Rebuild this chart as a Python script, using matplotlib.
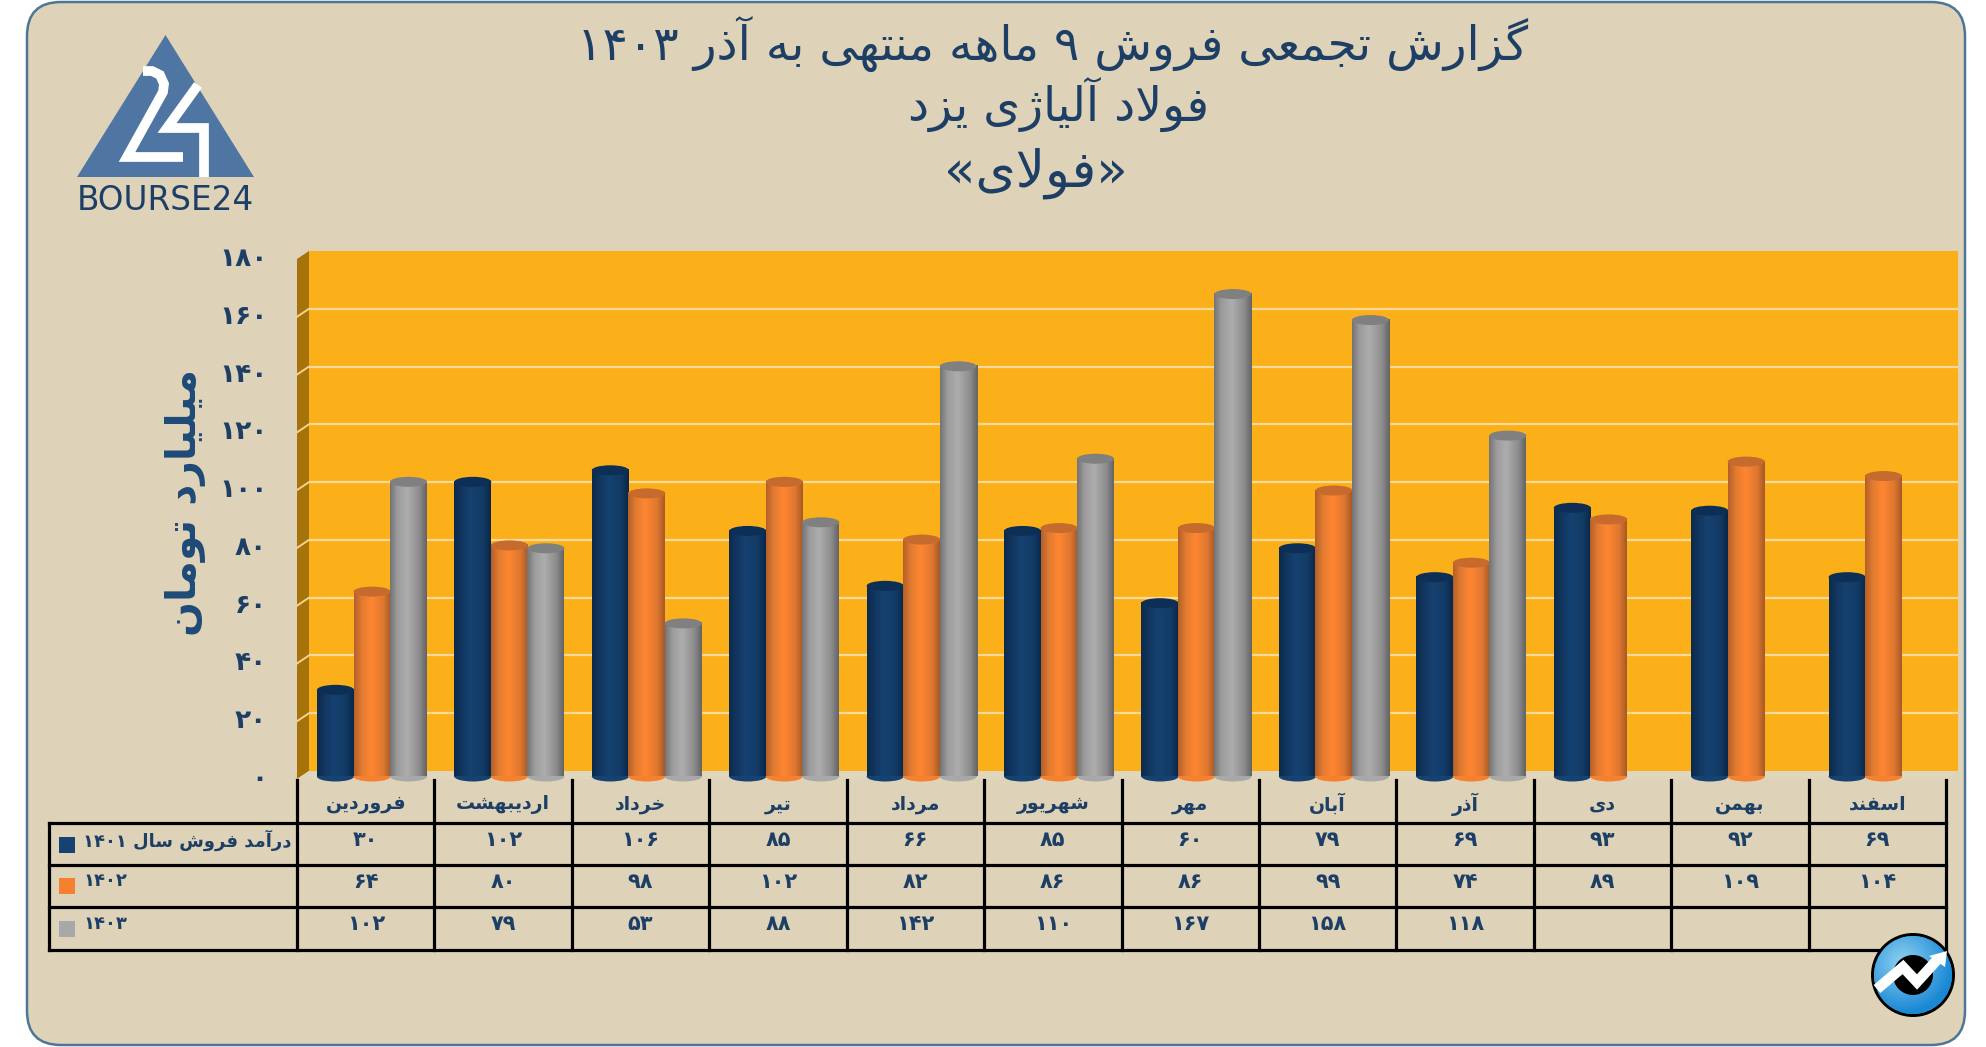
import numpy as np
import matplotlib
matplotlib.use("Agg")
import matplotlib.pyplot as plt
from matplotlib.patches import Ellipse, FancyBboxPatch, Polygon, Circle, Rectangle
from matplotlib.colors import to_rgb
import matplotlib.transforms as mtr

# ---------- data ----------
MONTHS = ["فروردین", "اردیبهشت", "خرداد", "تیر", "مرداد", "شهریور", "مهر", "آبان", "آذر", "دی", "بهمن", "اسفند"]
SALES_1401 = [30, 102, 106, 85, 66, 85, 60, 79, 69, 93, 92, 69]
SALES_1402 = [64, 80, 98, 102, 82, 86, 86, 99, 74, 89, 109, 104]
SALES_1403 = [102, 79, 53, 88, 142, 110, 167, 158, 118, None, None, None]
SERIES_NAMES = ["درآمد فروش سال ۱۴۰۱", "۱۴۰۲", "۱۴۰۳"]
Y_TICKS = [0, 20, 40, 60, 80, 100, 120, 140, 160, 180]
TITLE_LINES = ["گزارش تجمعی فروش ۹ ماهه منتهی به آذر ۱۴۰۳", "فولاد آلیاژی یزد", "«فولای»"]
Y_LABEL = "میلیارد تومان"

# ---------- Persian shaping (matplotlib has no text shaper) ----------
FORMS = {
    'ا': (0xFE8D, 0xFE8E, None, None), 'آ': (0xFE81, 0xFE82, None, None),
    'ب': (0xFE8F, 0xFE90, 0xFE91, 0xFE92), 'پ': (0xFB56, 0xFB57, 0xFB58, 0xFB59),
    'ت': (0xFE95, 0xFE96, 0xFE97, 0xFE98), 'ج': (0xFE9D, 0xFE9E, 0xFE9F, 0xFEA0),
    'خ': (0xFEA5, 0xFEA6, 0xFEA7, 0xFEA8), 'د': (0xFEA9, 0xFEAA, None, None),
    'ذ': (0xFEAB, 0xFEAC, None, None), 'ر': (0xFEAD, 0xFEAE, None, None),
    'ز': (0xFEAF, 0xFEB0, None, None), 'ژ': (0xFB8A, 0xFB8B, None, None),
    'س': (0xFEB1, 0xFEB2, 0xFEB3, 0xFEB4), 'ش': (0xFEB5, 0xFEB6, 0xFEB7, 0xFEB8),
    'ع': (0xFEC9, 0xFECA, 0xFECB, 0xFECC), 'ف': (0xFED1, 0xFED2, 0xFED3, 0xFED4),
    'گ': (0xFB92, 0xFB93, 0xFB94, 0xFB95), 'ل': (0xFEDD, 0xFEDE, 0xFEDF, 0xFEE0),
    'م': (0xFEE1, 0xFEE2, 0xFEE3, 0xFEE4), 'ن': (0xFEE5, 0xFEE6, 0xFEE7, 0xFEE8),
    'و': (0xFEED, 0xFEEE, None, None), 'ه': (0xFEE9, 0xFEEA, 0xFEEB, 0xFEEC),
    'ی': (0xFBFC, 0xFBFD, 0xFBFE, 0xFBFF),
}
MIRROR = {'«': '»', '»': '«', '(': ')', ')': '('}
DIGITS = "۰۱۲۳۴۵۶۷۸۹"


def fa_num(v):
    return "".join(DIGITS[int(c)] for c in str(v))


def shape(text):
    out = []
    i = 0
    n = len(text)
    while i < n:
        c = text[i]
        if c not in FORMS:
            out.append(MIRROR.get(c, c))
            i += 1
            continue
        prev = text[i - 1] if i > 0 else ''
        joins_prev = prev in FORMS and FORMS[prev][2] is not None
        # lam + alef ligature
        if c == 'ل' and i + 1 < n and text[i + 1] in 'اآ':
            if text[i + 1] == 'ا':
                out.append(chr(0xFEFC if joins_prev else 0xFEFB))
            else:
                out.append(chr(0xFEF6 if joins_prev else 0xFEF5))
            i += 2
            continue
        nxt = text[i + 1] if i + 1 < n else ''
        joins_next = nxt in FORMS and FORMS[c][2] is not None
        f = FORMS[c]
        if joins_prev and joins_next:
            out.append(chr(f[3]))
        elif joins_prev:
            out.append(chr(f[1]))
        elif joins_next:
            out.append(chr(f[2]))
        else:
            out.append(chr(f[0]))
        i += 1
    # visual order: reverse everything, keep digit runs left-to-right
    vis = out[::-1]
    res, run = [], []
    for ch in vis:
        if ch in DIGITS:
            run.append(ch)
        else:
            res.extend(run[::-1])
            run = []
            res.append(ch)
    res.extend(run[::-1])
    return "".join(res)


# ---------- layout ----------
W, H = 1986, 1047
NAVY = "#1d3f66"
PANEL = "#ded3b8"
fig = plt.figure(figsize=(W / 100, H / 100), dpi=100, facecolor="white")
plt.rcParams['font.family'] = ['DejaVu Sans']

bg = fig.add_axes([0, 0, 1, 1], zorder=0)
bg.set_xlim(0, W)
bg.set_ylim(H, 0)
bg.axis("off")

top = fig.add_axes([0, 0, 1, 1], zorder=3)
top.set_xlim(0, W)
top.set_ylim(H, 0)
top.axis("off")
top.patch.set_alpha(0)

# panel
bg.add_patch(FancyBboxPatch((27 + 34, 2 + 34), 1938 - 68, 1043 - 68, boxstyle="round,pad=34,rounding_size=34",
                            fc=PANEL, ec="#4d7595", lw=1.8))

# plot geometry
WALL_L, WALL_R, WALL_T, WALL_B = 309, 1958, 251, 771
SKEW_X, SKEW_Y = 12, 8
TABLE_L, COL0, COL_W = 49, 297, (1946 - 297) / 12
GROUP0 = 372

bg.add_patch(Polygon([(WALL_L - SKEW_X, WALL_T + SKEW_Y), (WALL_L, WALL_T), (WALL_L, WALL_B),
                      (WALL_L - SKEW_X, WALL_B + SKEW_Y)], fc="#a6720a", ec="none"))
bg.add_patch(Polygon([(WALL_L, WALL_B), (WALL_R, WALL_B), (WALL_R - SKEW_X, WALL_B + SKEW_Y),
                      (WALL_L - SKEW_X, WALL_B + SKEW_Y)], fc="#e0d6bd", ec="none"))
for t in Y_TICKS[1:-1]:
    yy = WALL_B - (WALL_B - WALL_T) * t / 180
    bg.plot([WALL_L - SKEW_X, WALL_L], [yy + SKEW_Y, yy], color="#f6d48f", lw=1.4)

ax = fig.add_axes([WALL_L / W, 1 - WALL_B / H, (WALL_R - WALL_L) / W, (WALL_B - WALL_T) / H], zorder=1)
ax.set_facecolor("#fbb01a")
for s in ax.spines.values():
    s.set_visible(False)
ax.set_xlim((WALL_L - GROUP0) / COL_W, (WALL_R - GROUP0) / COL_W)
ax.set_ylim(0, 180)
ax.set_xticks([])
ax.set_yticks(Y_TICKS)
ax.set_yticklabels([fa_num(t) for t in Y_TICKS], fontsize=19, fontweight="bold", color=NAVY)
ax.tick_params(axis="y", length=0, pad=30)
for lab in ax.get_yticklabels():
    lab.set_transform(lab.get_transform() + mtr.ScaledTranslation(0, -5 / 100, fig.dpi_scale_trans))
ax.grid(axis="y", color="#fad99b", lw=1.6)
ax.set_axisbelow(True)
for gl, t in zip(ax.get_ygridlines(), Y_TICKS):
    if t in (0, 180):
        gl.set_visible(False)

# cylinders
STYLE = [
    (["#0b2a4d", "#12365f", "#164271", "#123a64", "#0a2747"], "#0e2f55", "#164271"),
    (["#b4602a", "#e07a30", "#ff8631", "#de7730", "#a85a28"], "#c76a2d", "#f5802f"),
    (["#747474", "#9c9c9c", "#adadad", "#8c8c8c", "#646464"], "#808080", "#a8a8a8"),
]
STOPS = [0, 0.2, 0.47, 0.8, 1]
bar_tr = ax.transData + mtr.ScaledTranslation(0, -5.5 / 100, fig.dpi_scale_trans)
SPACING = 36.5 / COL_W
BAR_W = 37 / COL_W
ELL_H = 10 / ((WALL_B - WALL_T) / 180)


def gradient(cols):
    t = np.linspace(0, 1, 64)
    rgb = np.array([to_rgb(c) for c in cols])
    return np.stack([np.interp(t, STOPS, rgb[:, k]) for k in range(3)], axis=-1)[None, :, :]


positions = np.arange(len(MONTHS))
for s, values in enumerate([SALES_1401, SALES_1402, SALES_1403]):
    cols, top_col, flat = STYLE[s]
    grad = gradient(cols)
    present = [(p, v) for p, v in zip(positions, values) if v is not None]
    xs = np.array([p for p, v in present]) + (s - 1) * SPACING
    vs = [v for p, v in present]
    ax.bar(xs, vs, width=BAR_W, color=flat, transform=bar_tr, clip_on=False, zorder=3 + s * 5)
    for x, v in zip(xs, vs):
        x0, x1 = x - BAR_W / 2, x + BAR_W / 2
        base = Ellipse((x, 0), BAR_W, ELL_H, fc=flat, ec="none", transform=bar_tr, zorder=4 + s * 5, clip_on=False)
        ax.add_patch(base)
        im = ax.imshow(grad, extent=(x0, x1, -ELL_H / 2, ELL_H / 2), aspect="auto", transform=bar_tr,
                       zorder=5 + s * 5, interpolation="bilinear")
        im.set_clip_path(base)
        ax.imshow(grad, extent=(x0, x1, 0, v), aspect="auto", transform=bar_tr, clip_on=False,
                  zorder=5 + s * 5, interpolation="bilinear")
        ax.add_patch(Ellipse((x, v), BAR_W, ELL_H, fc=top_col, ec="none", transform=bar_tr,
                             zorder=6 + s * 5, clip_on=False))

# titles
TITLE_POS = [(1053, 44, 34), (1059, 104, 34), (1036, 173, 37)]
for line, (x, y, fs) in zip(TITLE_LINES, TITLE_POS):
    top.text(x, y, shape(line), ha="center", va="center", fontsize=fs, color=NAVY)
top.text(185, 503, shape(Y_LABEL), rotation=90, ha="center", va="center", fontsize=29.5,
         fontweight="bold", color="#1e4a78")

# data table
ROW_Y = [823, 865, 907, 950]
LW = 2.3
for y in ROW_Y:
    top.plot([TABLE_L, COL0 + 12 * COL_W], [y, y], color="black", lw=LW, solid_capstyle="projecting")
top.plot([TABLE_L, TABLE_L], [ROW_Y[0], ROW_Y[-1]], color="black", lw=LW)
for i in range(13):
    xx = COL0 + i * COL_W
    top.plot([xx, xx], [780, ROW_Y[-1]], color="black", lw=LW)
for i, m in enumerate(MONTHS):
    top.text(COL0 + (i + .5) * COL_W, 804, shape(m), ha="center", va="center", fontsize=13.6,
             fontweight="bold", color=NAVY)
    for r, vals in enumerate([SALES_1401, SALES_1402, SALES_1403]):
        if vals[i] is not None:
            top.text(COL0 + (i + .5) * COL_W, ROW_Y[r] + 17, fa_num(vals[i]), ha="center", va="center",
                     fontsize=15, fontweight="bold", color=NAVY)
KEY_Y = [837, 878, 921]
for name, ky, st in zip(SERIES_NAMES, KEY_Y, STYLE):
    top.add_patch(Rectangle((59, ky), 16, 15.5, fc=st[2], ec="none"))
    top.text(83, ky + 3, shape(name), ha="left", va="center", fontsize=12.9, fontweight="bold", color=NAVY)

# logo
bg.add_patch(Polygon([(165.5, 35), (77, 177), (254, 177)], fc="#4f76a3", ec="none"))
bg.plot([143, 152, 160, 164, 163, 127, 183], [71, 71, 75, 84, 92, 157, 157], color="white", lw=7,
        solid_joinstyle="miter", solid_capstyle="butt")
bg.plot([198, 167, 204, 204], [85, 128, 128, 177], color="white", lw=7, solid_joinstyle="miter",
        solid_capstyle="butt")
bg.text(165.5, 200, "BOURSE24", ha="center", va="center", fontsize=23.5, family="DejaVu Sans", color=NAVY)

# badge
cx, cy, rad = 1913, 975, 42
yy, xx = np.mgrid[-1:1:128j, -1:1:128j]
rr = np.hypot(xx + 0.25, yy + 0.3)
tt = np.clip(rr / 1.2, 0, 1)[..., None]
img = (1 - tt) * np.array(to_rgb("#8fd2f2")) + tt * np.array(to_rgb("#1a88d4"))
circ = Circle((cx, cy), rad, fc="black", ec="none", zorder=5)
top.add_patch(circ)
inner = Circle((cx, cy), rad - 3, fc="#1e8fd6", ec="none", zorder=6)
top.add_patch(inner)
im = top.imshow(img, extent=(cx - rad, cx + rad, cy + rad, cy - rad), aspect="auto", zorder=6)
im.set_clip_path(inner)
top.add_patch(Circle((cx, cy), 20, fc="black", ec="none", zorder=7))
top.plot([1877, 1903, 1917, 1937], [989, 967, 982, 960], color="white", lw=7.5, zorder=8,
         solid_joinstyle="miter", solid_capstyle="butt")
top.add_patch(Polygon([(1929, 956), (1947, 951), (1945, 967)], fc="white", ec="none", zorder=8))
top.set_xlim(0, W)
top.set_ylim(H, 0)

fig.savefig("out.png", dpi=100, facecolor="white")
